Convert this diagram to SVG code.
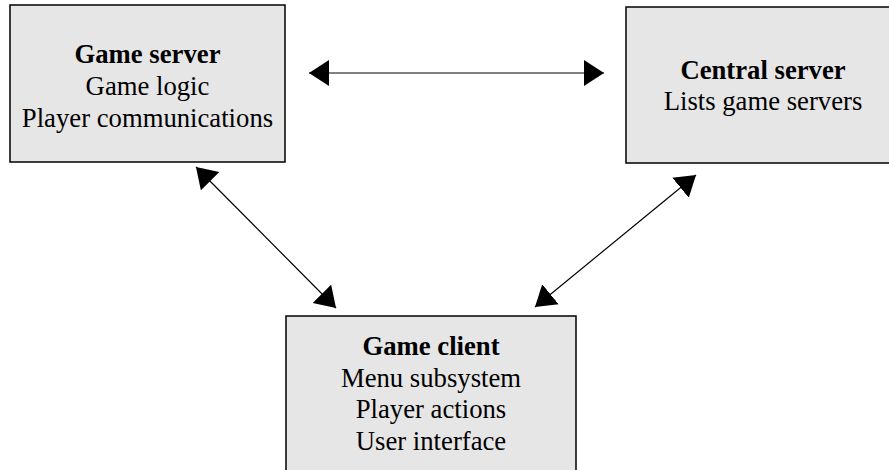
<svg xmlns="http://www.w3.org/2000/svg" width="889" height="470" viewBox="0 0 889 470">
<style>
.box{fill:#e6e6e6;stroke:#000;stroke-width:1.5}
.t{font-family:'Liberation Serif','DejaVu Serif',serif;font-size:26.7px;fill:#000;text-anchor:middle}
.b{font-weight:bold}
.conn{stroke:#000;stroke-width:1.2;fill:none;marker-start:url(#ah);marker-end:url(#ah)}
</style>
<defs>
<marker id="ah" markerUnits="userSpaceOnUse" markerWidth="22" markerHeight="28" refX="20" refY="13" orient="auto-start-reverse" viewBox="0 0 22 28">
<path d="M0,0 L20,13 L0,26 z" fill="#000"/>
</marker>
</defs>
<rect width="889" height="470" fill="#fff"/>
<g id="game-server" class="t" font-family="Liberation Serif, serif">
<rect class="box" x="10" y="5" width="275" height="157"/>
<text x="147.5" y="63" class="t b">Game server</text>
<text x="147.5" y="95" class="t">Game logic</text>
<text x="147.5" y="127" class="t">Player communications</text>
</g>
<g id="central-server" class="t">
<rect class="box" x="626" y="7" width="280" height="156"/>
<text x="763" y="79" class="t b">Central server</text>
<text x="763" y="110" class="t">Lists game servers</text>
</g>
<g id="game-client" class="t">
<rect class="box" x="286" y="316" width="290" height="170"/>
<text x="431" y="355" class="t b">Game client</text>
<text x="431" y="387" class="t">Menu subsystem</text>
<text x="431" y="418" class="t">Player actions</text>
<text x="431" y="450" class="t">User interface</text>
</g>
<g id="connectors">
<line class="conn" x1="309" y1="73" x2="604" y2="73"/>
<line class="conn" x1="196" y1="167" x2="336" y2="308"/>
<line class="conn" x1="696" y1="175" x2="535" y2="307"/>
</g>
</svg>
